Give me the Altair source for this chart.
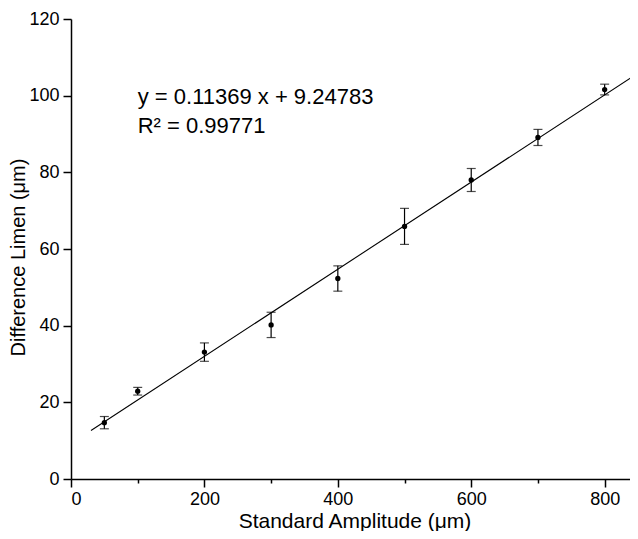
import altair as alt
import pandas as pd

# Data
amplitude = [50, 100, 200, 300, 400, 500, 600, 700, 800]
limen = [14.7, 22.9, 33.1, 40.2, 52.3, 65.9, 78.0, 89.1, 101.6]
err = [1.6, 1.0, 2.4, 3.3, 3.3, 4.7, 3.0, 2.1, 1.4]

fit_x = [30, 850]
fit_y = [12.66, 105.88]

ann_x = [100, 100]
ann_y = [97.8, 90.2]
ann_text = ["y = 0.11369 x + 9.24783", "R\u00b2 = 0.99771"]

FONT = "Liberation Sans"

df = pd.DataFrame({
    "x": amplitude,
    "y": limen,
    "lo": [a - b for a, b in zip(limen, err)],
    "hi": [a + b for a, b in zip(limen, err)],
})
fit = pd.DataFrame({"x": fit_x, "y": fit_y})
ann = pd.DataFrame({"x": ann_x, "y": ann_y, "t": ann_text})

xscale = alt.Scale(domain=[0, 850], nice=False, zero=False)
yscale = alt.Scale(domain=[0, 120], nice=False)

xaxis = alt.Axis(
    title="Standard Amplitude (\u03bcm)",
    values=list(range(0, 900, 100)),
    labelExpr="datum.value % 200 === 0 ? datum.label : ''",
    tickSize={"condition": {"test": "datum.value % 200 === 0", "value": 8}, "value": 4},
    grid=False,
    labelPadding=3,
    titlePadding=2,
)
yaxis = alt.Axis(
    title="Difference Limen (\u03bcm)",
    values=list(range(0, 130, 10)),
    labelExpr="datum.value % 20 === 0 ? datum.label : ''",
    tickSize={"condition": {"test": "datum.value % 20 === 0", "value": 8}, "value": 4},
    grid=False,
    labelPadding=4,
    titlePadding=0,
    titleFontSize=20,
    titleY=238,
)

base = alt.Chart(df)

points = base.mark_circle(size=28, color="black", opacity=1).encode(
    x=alt.X("x:Q", scale=xscale, axis=xaxis),
    y=alt.Y("y:Q", scale=yscale, axis=yaxis),
)
bars = base.mark_rule(color="black", strokeWidth=1.2).encode(
    x="x:Q", y="lo:Q", y2="hi:Q"
)
cap_lo = base.mark_tick(color="black", orient="horizontal", size=9, thickness=1.2).encode(
    x="x:Q", y="lo:Q"
)
cap_hi = base.mark_tick(color="black", orient="horizontal", size=9, thickness=1.2).encode(
    x="x:Q", y="hi:Q"
)
line = alt.Chart(fit).mark_line(color="black", strokeWidth=1.1).encode(
    x="x:Q", y="y:Q"
)
text = alt.Chart(ann).mark_text(
    align="left", baseline="alphabetic", font=FONT, fontSize=22, color="black"
).encode(x="x:Q", y="y:Q", text="t:N")

chart = alt.layer(line, bars, cap_lo, cap_hi, points, text).properties(
    width=567,
    height=460,
    autosize=alt.AutoSizeParams(type="none"),
    padding={"left": 63, "top": 11, "right": -8, "bottom": 52},
).configure_view(stroke=None).configure_axis(
    labelFont=FONT,
    titleFont=FONT,
    labelFontSize=18,
    titleFontSize=21,
    titleFontWeight="normal",
    labelColor="black",
    titleColor="black",
    domainColor="black",
    tickColor="black",
    domainWidth=1.5,
    tickWidth=1.5,
)

chart.save("out.html", embed_options={"renderer": "svg", "actions": False})
